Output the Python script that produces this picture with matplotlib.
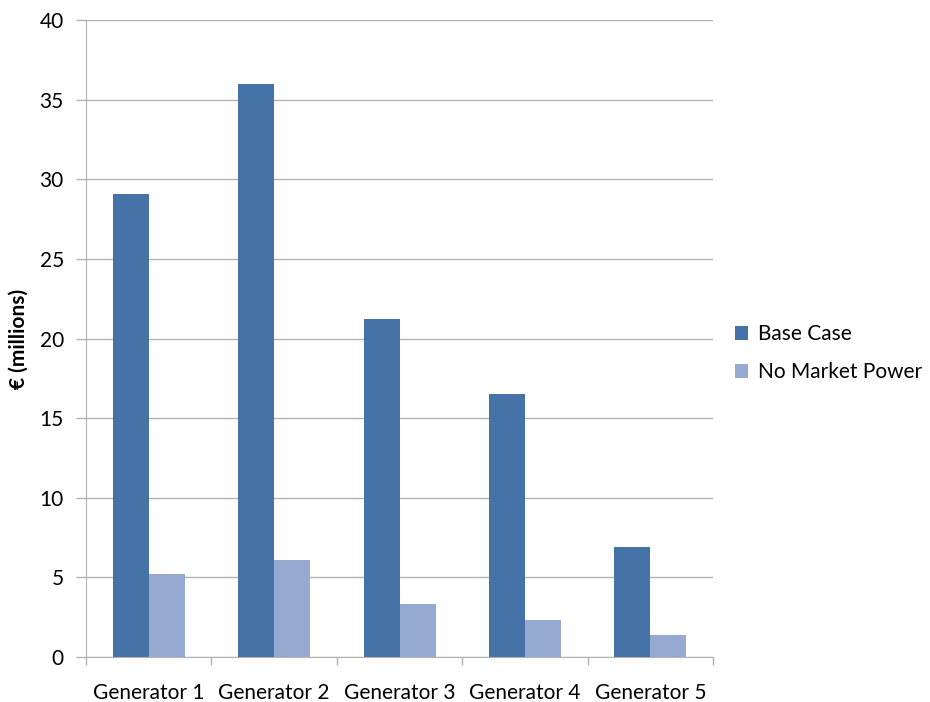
import numpy as np
import matplotlib.pyplot as plt

plt.rcParams['font.family'] = ['Lato', 'DejaVu Sans']

generators = ['Generator 1', 'Generator 2', 'Generator 3', 'Generator 4', 'Generator 5']
base_case = [29.1, 36.0, 21.2, 16.5, 6.9]
no_market_power = [5.2, 6.1, 3.3, 2.3, 1.4]

fig = plt.figure(figsize=(9.3, 7.02), dpi=100)
ax = fig.add_axes([0.0925, 0.0641, 0.6742, 0.9074])

x = np.arange(len(generators))
w = 0.287
ax.bar(x - w / 2, base_case, w, color='#4573A7', label='Base Case', zorder=3)
ax.bar(x + w / 2, no_market_power, w, color='#95A9D1', label='No Market Power', zorder=3)

ax.set_xlim(-0.5, len(generators) - 0.5)
ax.set_ylim(0, 40)
ax.set_yticks(range(0, 41, 5))
ax.yaxis.grid(True, color='#b3b3b3', linewidth=1, zorder=0)

ax.set_xticks(x)
ax.set_xticklabels(generators)
ax.set_xticks(np.arange(-0.5, len(generators), 1), minor=True)
ax.tick_params(axis='x', which='major', length=0, pad=19, labelsize=15)
ax.tick_params(axis='x', which='minor', length=6, color='#b3b3b3', width=1)
ax.tick_params(axis='y', length=7, color='#b3b3b3', width=1, labelsize=15, pad=9)

for s in ['top', 'right']:
    ax.spines[s].set_visible(False)
for s in ['left', 'bottom']:
    ax.spines[s].set_color('#b3b3b3')

ax.set_ylabel('€ (millions)', fontsize=15, fontweight='bold', labelpad=8)

ax.legend(loc='center left', bbox_to_anchor=(1.005, 0.477), frameon=False,
          fontsize=15, handlelength=0.65, handleheight=0.65, handletextpad=0.45,
          labelspacing=0.85)

fig.savefig('out.png', dpi=100)
